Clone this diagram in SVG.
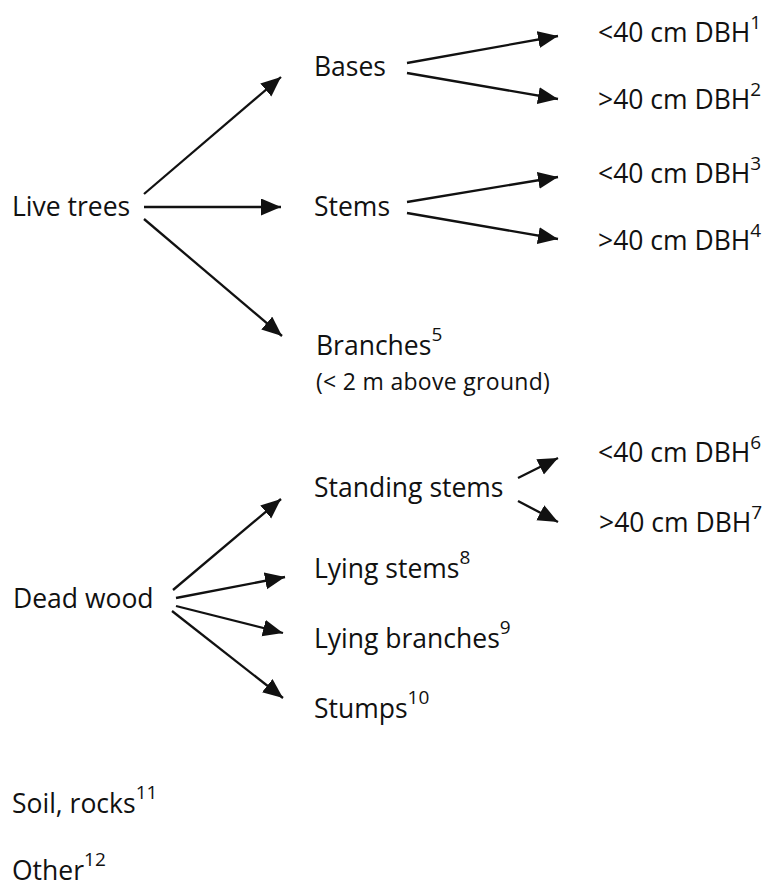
<svg xmlns="http://www.w3.org/2000/svg" width="772" height="888" viewBox="0 0 772 888">
<style>
text{font-family:"Open Sans","Noto Sans","Liberation Sans",sans-serif;font-size:26.5px;fill:#111}
.small{font-size:23px;letter-spacing:0.3px}
.sup{font-size:19px}
.conn line{stroke:#111;stroke-width:2.3;marker-end:url(#ah)}
</style>
<defs>
<marker id="ah" markerUnits="userSpaceOnUse" markerWidth="22" markerHeight="18" refX="20" refY="8.5" orient="auto">
<path d="M0,0 L20,8.5 L0,17 z" fill="#111"/>
</marker>
</defs>
<rect width="772" height="888" fill="#fff"/>
<g id="connectors" class="conn">
<line x1="144" y1="194" x2="281" y2="77"/>
<line x1="144" y1="207" x2="281" y2="207"/>
<line x1="144" y1="219" x2="282" y2="336"/>
<line x1="407" y1="63" x2="558" y2="36"/>
<line x1="407" y1="73" x2="558" y2="99"/>
<line x1="407" y1="202" x2="558" y2="177"/>
<line x1="407" y1="213" x2="558" y2="239"/>
<line x1="173" y1="590" x2="281" y2="499"/>
<line x1="176" y1="598" x2="285" y2="577"/>
<line x1="176" y1="606" x2="283" y2="633"/>
<line x1="172" y1="611" x2="283" y2="698"/>
<line x1="518" y1="478" x2="558" y2="458"/>
<line x1="518" y1="501" x2="558" y2="522"/>
</g>
<g id="live-trees"><text x="12" y="216">Live trees</text></g>
<g id="bases"><text x="314" y="76">Bases</text></g>
<g id="stems"><text x="314" y="216">Stems</text></g>
<g id="branches"><text x="316" y="355">Branches<tspan class="sup" dy="-14">5</tspan></text><text class="small" x="316" y="390">(&lt; 2 m above ground)</text></g>
<g id="bases-lt40"><text x="598" y="42">&lt;40 cm DBH<tspan class="sup" dy="-13">1</tspan></text></g>
<g id="bases-gt40"><text x="598" y="109">&gt;40 cm DBH<tspan class="sup" dy="-13">2</tspan></text></g>
<g id="stems-lt40"><text x="598" y="183">&lt;40 cm DBH<tspan class="sup" dy="-13">3</tspan></text></g>
<g id="stems-gt40"><text x="598" y="250">&gt;40 cm DBH<tspan class="sup" dy="-13">4</tspan></text></g>
<g id="dead-wood"><text x="13" y="608">Dead wood</text></g>
<g id="standing-stems"><text x="314" y="497">Standing stems</text></g>
<g id="standing-lt40"><text x="598" y="462">&lt;40 cm DBH<tspan class="sup" dy="-13">6</tspan></text></g>
<g id="standing-gt40"><text x="599" y="532">&gt;40 cm DBH<tspan class="sup" dy="-13">7</tspan></text></g>
<g id="lying-stems"><text x="314" y="578">Lying stems<tspan class="sup" dy="-14">8</tspan></text></g>
<g id="lying-branches"><text x="314" y="648">Lying branches<tspan class="sup" dy="-14">9</tspan></text></g>
<g id="stumps"><text x="314" y="718">Stumps<tspan class="sup" dy="-14">10</tspan></text></g>
<g id="soil-rocks"><text x="12" y="813">Soil, rocks<tspan class="sup" dy="-14">11</tspan></text></g>
<g id="other"><text x="12" y="880">Other<tspan class="sup" dy="-14">12</tspan></text></g>
</svg>
